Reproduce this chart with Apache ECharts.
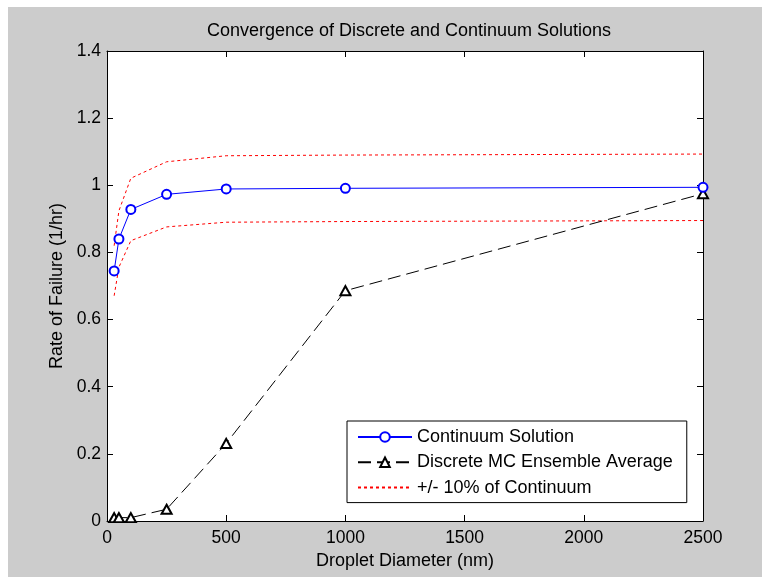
<!DOCTYPE html>
<html>
<head>
<meta charset="utf-8">
<script src="https://cdn.jsdelivr.net/npm/echarts@6/dist/echarts.min.js"></script>
<style>
  html, body { margin: 0; padding: 0; background: #ffffff; width: 762px; height: 577px; overflow: hidden; }
  #chart { position: absolute; left: 8px; top: 7px; width: 754px; height: 570px; }
</style>
</head>
<body>
<div id="chart"></div>
<script>
// Droplet diameters (nm) at which both solutions were evaluated
const diameters = [30, 50, 100, 250, 500, 1000, 2500];
// Rate of failure (1/hr)
const continuum = [0.745, 0.840, 0.928, 0.973, 0.989, 0.991, 0.994];
const discrete  = [0.010, 0.010, 0.010, 0.035, 0.231, 0.686, 0.975];
// +/- 10% envelope around the continuum solution
const upperBand = [0.820, 0.924, 1.021, 1.070, 1.088, 1.090, 1.093];
const lowerBand = [0.671, 0.756, 0.835, 0.876, 0.890, 0.892, 0.895];

// Axis ranges: [min, max, interval]
const xRange = [0, 2500, 500];
const yRange = [0, 1.4, 0.2];

const seriesNames = ['Continuum Solution', 'Discrete MC Ensemble Average', '+/- 10% of Continuum'];

const FONT = '"Liberation Sans", Arial, sans-serif';
const pairs = ys => diameters.map((d, i) => [d, ys[i]]);

function axisBase(range) {
  return {
    type: 'value',
    min: range[0], max: range[1], interval: range[2],
    splitLine: { show: false },
    axisLine: { show: true, onZero: false, lineStyle: { color: '#000', width: 1 } },
    axisTick: { show: true, inside: true, length: 6, lineStyle: { color: '#000', width: 1 } }
  };
}

const chart = echarts.init(document.getElementById('chart'), null, { renderer: 'canvas' });

chart.setOption({
  backgroundColor: '#cccccc',
  animation: false,
  textStyle: { fontFamily: FONT },
  title: {
    text: 'Convergence of Discrete and Continuum Solutions',
    left: 396, top: 10, textAlign: 'center',
    textStyle: { fontFamily: FONT, fontSize: 18, fontWeight: 'normal', color: '#000' }
  },
  grid: {
    left: 99, top: 44, right: 59, bottom: 56,
    show: true, backgroundColor: '#ffffff', borderWidth: 0
  },
  legend: {
    data: [
      { name: seriesNames[0] },
      { name: seriesNames[1] },
      { name: seriesNames[2], itemStyle: { opacity: 0 } }
    ],
    orient: 'vertical',
    left: 339, top: 414,
    backgroundColor: '#ffffff',
    borderColor: '#000', borderWidth: 1, borderRadius: 0,
    padding: [7, 14, 6, 10],
    itemWidth: 54, itemHeight: 12, itemGap: 7.3,
    textStyle: { fontFamily: FONT, fontSize: 18, color: '#000', lineHeight: 18 },
    selectedMode: false
  },
  xAxis: [
    Object.assign(axisBase(xRange), {
      position: 'bottom',
      name: 'Droplet Diameter (nm)', nameLocation: 'middle', nameGap: 30,
      nameTextStyle: { fontFamily: FONT, fontSize: 18, color: '#000' },
      axisLabel: { color: '#000', fontFamily: FONT, fontSize: 17.5, margin: 8, formatter: v => String(v) }
    }),
    Object.assign(axisBase(xRange), { position: 'top', axisLabel: { show: false } })
  ],
  yAxis: [
    Object.assign(axisBase(yRange), {
      position: 'left',
      name: 'Rate of Failure (1/hr)', nameLocation: 'middle', nameGap: 33,
      nameTextStyle: { fontFamily: FONT, fontSize: 18, color: '#000' },
      axisLabel: { color: '#000', fontFamily: FONT, fontSize: 17.5, margin: 6, formatter: v => String(+v.toFixed(1)) }
    }),
    Object.assign(axisBase(yRange), { position: 'right', axisLabel: { show: false } })
  ],
  series: [
    {
      name: seriesNames[2], type: 'line', data: pairs(upperBand),
      symbol: 'none', z: 2,
      lineStyle: { color: '#ff0000', width: 1, type: [3, 3] },
      itemStyle: { color: '#ff0000' }
    },
    {
      name: seriesNames[2], type: 'line', data: pairs(lowerBand),
      symbol: 'none', z: 2,
      lineStyle: { color: '#ff0000', width: 1, type: [3, 3] },
      itemStyle: { color: '#ff0000' }
    },
    {
      name: seriesNames[1], type: 'line', data: pairs(discrete),
      symbol: 'emptyTriangle', symbolSize: [10, 9], z: 3,
      lineStyle: { color: '#000', width: 1, type: [13, 6] },
      itemStyle: { color: '#000', borderWidth: 1 }
    },
    {
      name: seriesNames[0], type: 'line', data: pairs(continuum),
      symbol: 'emptyCircle', symbolSize: 9, z: 4,
      lineStyle: { color: '#0000ff', width: 1 },
      itemStyle: { color: '#0000ff', borderWidth: 1 }
    }
  ]
});
</script>
</body>
</html>
